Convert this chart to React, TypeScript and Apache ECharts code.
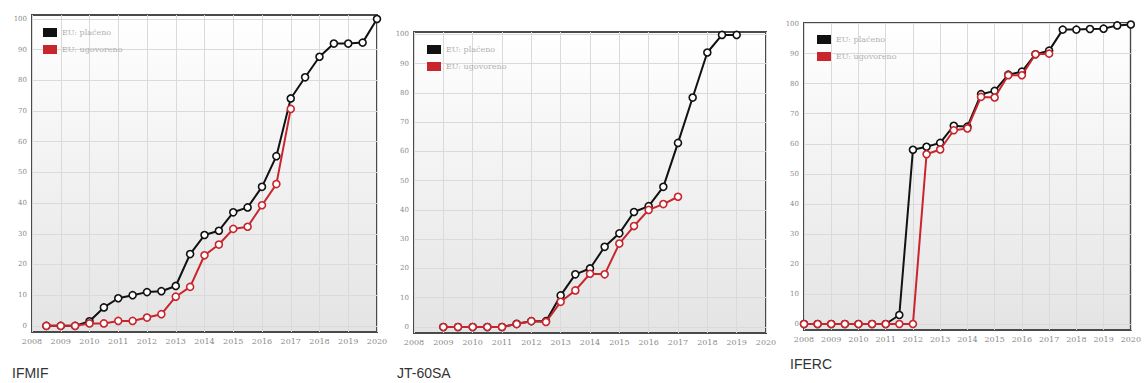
import React, { useEffect, useRef } from "react";
import * as echarts from "echarts";

const paidName = "EU: plaćeno";
const contractedName = "EU: ugovoreno";
const panelTitles = ["IFMIF", "JT-60SA", "IFERC"];
const yearTicks = [2008, 2009, 2010, 2011, 2012, 2013, 2014, 2015, 2016, 2017, 2018, 2019, 2020];
const valueTicks = [0, 10, 20, 30, 40, 50, 60, 70, 80, 90, 100];

// IFMIF
const ifmifYears = [2008.5, 2009, 2009.5, 2010, 2010.5, 2011, 2011.5, 2012, 2012.5, 2013, 2013.5, 2014, 2014.5, 2015, 2015.5, 2016, 2016.5, 2017, 2017.5, 2018, 2018.5, 2019, 2019.5, 2020];
const ifmifPaid = [0, 0, 0, 1.5, 6, 9, 10, 11, 11.3, 13, 23.4, 29.6, 31, 37, 38.6, 45.3, 55.3, 74.1, 81, 87.7, 92, 92, 92.3, 100];
const ifmifContracted = [0, 0, 0, 0.8, 0.8, 1.6, 1.6, 2.7, 3.8, 9.5, 12.7, 23, 26.5, 31.6, 32.3, 39.3, 46.2, 70.7];

// JT-60SA
const jtYears = [2009, 2009.5, 2010, 2010.5, 2011, 2011.5, 2012, 2012.5, 2013, 2013.5, 2014, 2014.5, 2015, 2015.5, 2016, 2016.5, 2017, 2017.5, 2018, 2018.5, 2019];
const jtPaid = [0, 0, 0, 0, 0, 1.1, 2, 2, 10.8, 18, 20, 27.4, 32, 39.3, 41.3, 47.9, 62.9, 78.4, 93.8, 99.8, 99.8];
const jtContracted = [0, 0, 0, 0, 0, 1, 2, 1.7, 8.6, 12.5, 18.2, 18, 28.5, 34.5, 40, 42, 44.5];

// IFERC
const ifercYears = [2008, 2008.5, 2009, 2009.5, 2010, 2010.5, 2011, 2011.5, 2012, 2012.5, 2013, 2013.5, 2014, 2014.5, 2015, 2015.5, 2016, 2016.5, 2017, 2017.5, 2018, 2018.5, 2019, 2019.5, 2020];
const ifercPaid = [0, 0, 0, 0, 0, 0, 0, 3, 58, 59, 60.3, 66, 65.7, 76.5, 77.6, 83, 84, 89.8, 91, 98, 98, 98.2, 98.3, 99.4, 99.7];
const ifercContracted = [0, 0, 0, 0, 0, 0, 0, 0, 0, 56.5, 58.1, 64.5, 65.1, 75.6, 75.4, 82.8, 82.8, 89.8, 90];

const BLACK = "#111111";
const RED = "#c9252d";

function zip(xs: number[], ys: number[]) {
  return ys.map((v, i) => [xs[i], v]);
}

export default function App() {
  const ref = useRef<HTMLDivElement>(null);
  useEffect(() => {
    document.body.style.margin = "0";
    const chart = echarts.init(ref.current!, null, { renderer: "svg" });

    const panels = [
      { left: 32, top: 15, width: 345, height: 317, yMin: -2, yMax: 101.3, years: ifmifYears, paid: ifmifPaid, contracted: ifmifContracted, legendLeft: 43, legendTop: 28, titleX: 12, titleY: 366 },
      { left: 414, top: 32, width: 352, height: 301, yMin: -2.05, yMax: 100.8, years: jtYears, paid: jtPaid, contracted: jtContracted, legendLeft: 427, legendTop: 45, titleX: 397, titleY: 366 },
      { left: 804, top: 23, width: 337, height: 307, yMin: -2, yMax: 100.2, years: ifercYears, paid: ifercPaid, contracted: ifercContracted, legendLeft: 817, legendTop: 35, titleX: 790, titleY: 357 },
    ];

    const grid: any[] = [];
    const xAxis: any[] = [];
    const yAxis: any[] = [];
    const series: any[] = [];
    const legend: any[] = [];
    const graphic: any[] = [];

    panels.forEach((p, i) => {
      grid.push({
        left: p.left,
        top: p.top,
        width: p.width,
        height: p.height,
        show: true,
        backgroundColor: {
          type: "linear", x: 0, y: 0, x2: 0, y2: 1,
          colorStops: [
            { offset: 0, color: "#ffffff" },
            { offset: 1, color: "#e4e4e4" },
          ],
        },
        borderColor: "#4a4a4a",
        borderWidth: 2,
      });
      xAxis.push({
        type: "value",
        gridIndex: i,
        min: 2008,
        max: 2020,
        interval: 1,
        axisLine: { show: false },
        axisTick: { show: false, customValues: yearTicks },
        axisLabel: {
          customValues: yearTicks,
          formatter: (v: number) => String(Math.round(v)),
          color: "#8a8a8a",
          fontSize: 8,
          fontFamily: "DejaVu Serif, serif",
          margin: 5,
        },
        splitLine: { show: true, lineStyle: { color: "#dadada", width: 1 } },
      });
      yAxis.push({
        type: "value",
        gridIndex: i,
        min: p.yMin,
        max: p.yMax,
        axisLine: { show: false },
        axisTick: { show: false, customValues: valueTicks },
        axisLabel: {
          customValues: valueTicks,
          color: "#8a8a8a",
          fontSize: 7,
          fontFamily: "DejaVu Serif, serif",
          margin: 5,
        },
        splitLine: { show: true, lineStyle: { color: "#dadada", width: 1 } },
      });
      series.push({
        type: "line",
        name: paidName,
        xAxisIndex: i,
        yAxisIndex: i,
        data: zip(p.years, p.paid),
        symbol: "circle",
        symbolSize: 7,
        itemStyle: { color: "#ffffff", borderColor: BLACK, borderWidth: 1.6 },
        lineStyle: { color: BLACK, width: 2 },
        z: 3,
      });
      series.push({
        type: "line",
        name: contractedName,
        xAxisIndex: i,
        yAxisIndex: i,
        data: zip(p.years, p.contracted),
        symbol: "circle",
        symbolSize: 7,
        itemStyle: { color: "#ffffff", borderColor: RED, borderWidth: 1.6 },
        lineStyle: { color: RED, width: 2 },
        z: 4,
      });
      legend.push({
        orient: "vertical",
        left: p.legendLeft,
        top: p.legendTop,
        icon: "rect",
        itemWidth: 14,
        itemHeight: 9,
        itemGap: 8,
        padding: 0,
        textStyle: { color: "#b0b0b0", fontSize: 8, fontFamily: "DejaVu Serif, serif" },
        data: [
          { name: paidName, itemStyle: { color: BLACK, borderWidth: 0 } },
          { name: contractedName, itemStyle: { color: RED, borderWidth: 0 } },
        ],
      });
      graphic.push({
        type: "text",
        left: p.titleX,
        top: p.titleY,
        style: {
          text: panelTitles[i],
          fill: "#333333",
          font: "14px 'Liberation Sans', Arial, sans-serif",
        },
      });
    });

    chart.setOption({
      animation: false,
      backgroundColor: "#ffffff",
      grid,
      xAxis,
      yAxis,
      series,
      legend,
      graphic,
    });
    return () => chart.dispose();
  }, []);
  return <div ref={ref} style={{ width: 1144, height: 383 }} />;
}
